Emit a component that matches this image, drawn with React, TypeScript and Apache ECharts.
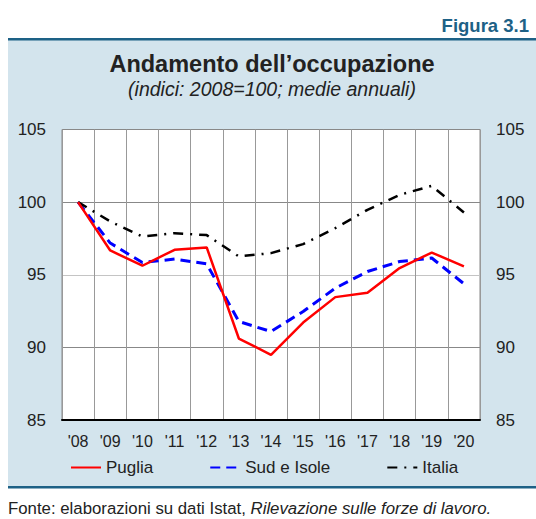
import React, { useEffect, useRef } from "react";
import * as echarts from "echarts";

const years = ["'08", "'09", "'10", "'11", "'12", "'13", "'14", "'15", "'16", "'17", "'18", "'19", "'20"];
const puglia = [100, 96.67, 95.62, 96.72, 96.88, 90.61, 89.49, 91.71, 93.46, 93.76, 95.46, 96.53, 95.57];
const sudIsole = [100, 97.18, 95.84, 96.08, 95.75, 91.78, 91.09, 92.47, 94.08, 95.22, 95.91, 96.15, 94.38];
const italia = [100, 98.67, 97.63, 97.86, 97.73, 96.26, 96.49, 97.11, 98.21, 99.47, 100.5, 101.12, 99.28];
const yTicks = { min: 85, max: 105, interval: 5 };

const FONT = "'Liberation Sans', Arial, Helvetica, sans-serif";
const TEAL = "#1d6186";
const BOX = "#d3e4ed";

export default function App() {
  const ref = useRef<HTMLDivElement>(null);
  useEffect(() => {
    if (!ref.current) return;
    const chart = echarts.init(ref.current, null, { renderer: "svg" });
    const yAxisBase = {
      type: "value",
      min: yTicks.min,
      max: yTicks.max,
      interval: yTicks.interval,
      axisLine: { show: false },
      axisTick: { show: false },
      axisLabel: { color: "#222", fontSize: 17, fontFamily: FONT, margin: 16 },
    };
    chart.setOption({
      animation: false,
      backgroundColor: "#fff",
      textStyle: { fontFamily: FONT },
      title: {
        text: "Andamento dell\u2019occupazione",
        subtext: "(indici: 2008=100; medie annuali)",
        left: 272,
        textAlign: "center",
        top: 52,
        itemGap: 3,
        padding: 0,
        textStyle: { fontSize: 23.5, fontWeight: "bold", color: "#222", fontFamily: FONT },
        subtextStyle: { fontSize: 19.5, fontStyle: "italic", color: "#222", fontFamily: FONT },
      },
      graphic: {
        elements: [
          { type: "rect", z: -100, shape: { x: 8, y: 40, width: 528, height: 447 }, style: { fill: BOX } },
          { type: "rect", z: -90, shape: { x: 8, y: 38, width: 528, height: 2.5 }, style: { fill: TEAL } },
          { type: "rect", z: -90, shape: { x: 8, y: 486, width: 528, height: 2.5 }, style: { fill: TEAL } },
          {
            type: "text",
            x: 529,
            y: 25,
            style: { text: "Figura 3.1", fill: TEAL, font: `bold 18.5px ${FONT}`, align: "right", verticalAlign: "middle" },
          },
          {
            type: "text",
            x: 8,
            y: 508,
            style: {
              text: "Fonte: elaborazioni su dati Istat, {i|Rilevazione sulle forze di lavoro.}",
              fill: "#222",
              font: `16.8px ${FONT}`,
              align: "left",
              verticalAlign: "middle",
              rich: { i: { fontStyle: "italic", fontSize: 16.8, fontFamily: FONT, fill: "#222" } },
            },
          },
        ],
      },
      legend: {
        left: 70,
        top: 459,
        padding: 0,
        itemWidth: 30,
        itemHeight: 14,
        itemGap: 56,
        itemStyle: { opacity: 0 },
        textStyle: { fontSize: 17, color: "#222", fontFamily: FONT },
        data: ["Puglia", "Sud e Isole", "Italia"],
      },
      grid: {
        left: 62,
        right: 56,
        top: 129.5,
        bottom: 99,
        show: true,
        backgroundColor: "#fff",
        borderColor: "#888",
        borderWidth: 1,
      },
      xAxis: {
        type: "category",
        data: years,
        boundaryGap: true,
        axisLine: { lineStyle: { color: "#000", width: 2 } },
        axisTick: { show: false },
        axisLabel: { interval: 0, color: "#222", fontSize: 16, fontFamily: FONT, margin: 13 },
        splitLine: { show: true, interval: 0, lineStyle: { color: "#999", width: 1 } },
      },
      yAxis: [
        {
          ...yAxisBase,
          position: "left",
          splitLine: { show: true, lineStyle: { color: ["#888", "#888", "#c4c4c4", "#888", "#888"], width: 1 } },
        },
        { ...yAxisBase, position: "right", splitLine: { show: false } },
      ],
      series: [
        {
          name: "Sud e Isole",
          type: "line",
          data: sudIsole,
          symbol: "none",
          z: 3,
          lineStyle: { color: "#0000ff", width: 3, type: [10, 6] },
          itemStyle: { color: "#0000ff" },
        },
        {
          name: "Italia",
          type: "line",
          data: italia,
          symbol: "none",
          z: 3,
          lineStyle: { color: "#000", width: 2.5, type: [10, 7, 2, 7] },
          itemStyle: { color: "#000" },
        },
        {
          name: "Puglia",
          type: "line",
          data: puglia,
          symbol: "none",
          z: 4,
          lineStyle: { color: "#ff0000", width: 2.5 },
          itemStyle: { color: "#ff0000" },
        },
      ],
    });
    return () => chart.dispose();
  }, []);
  return <div ref={ref} style={{ position: "fixed", left: 0, top: 0, width: 536, height: 519 }} />;
}
